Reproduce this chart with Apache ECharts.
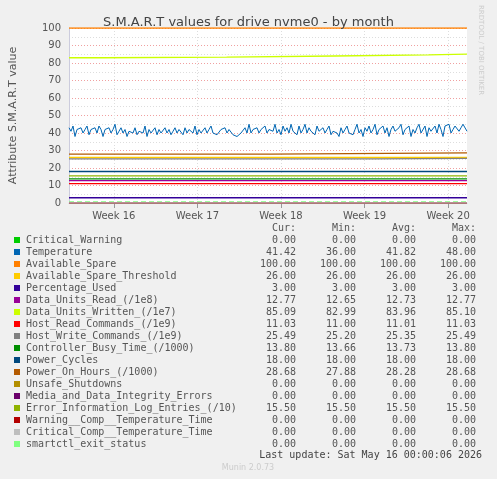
<!DOCTYPE html>
<html>
<head>
<meta charset="utf-8">
<script src="https://cdn.jsdelivr.net/npm/echarts@6/dist/echarts.min.js"></script>
<style>
  html, body { margin: 0; padding: 0; background: #f0f0f0; }
  #main { width: 497px; height: 479px; }
</style>
</head>
<body>
<div id="main"></div>
<script>
  // range in days, week label positions (days)
  var xMax = 33.33;
  var weekPos = [3.75, 10.75, 17.75, 24.75, 31.75];
  var weekNames = ['Week 16', 'Week 17', 'Week 18', 'Week 19', 'Week 20'];

  var names = ['Critical_Warning', 'Temperature', 'Available_Spare', 'Available_Spare_Threshold', 'Percentage_Used',
    'Data_Units_Read_(/1e8)', 'Data_Units_Written_(/1e7)', 'Host_Read_Commands_(/1e9)', 'Host_Write_Commands_(/1e9)',
    'Controller_Busy_Time_(/1000)', 'Power_Cycles', 'Power_On_Hours_(/1000)', 'Unsafe_Shutdowns',
    'Media_and_Data_Integrity_Errors', 'Error_Information_Log_Entries_(/10)', 'Warning__Comp__Temperature_Time',
    'Critical_Comp__Temperature_Time', 'smartctl_exit_status'];
  var colors = ['#00cc00', '#0066b3', '#ff8000', '#ffcc00', '#330099', '#990099', '#ccff00', '#ff0000', '#808080',
    '#008f00', '#00487d', '#b35a00', '#b38f00', '#6b006b', '#8fb300', '#b30000', '#bebebe', '#80ff80'];
  var cur = ['0.00', '41.42', '100.00', '26.00', '3.00', '12.77', '85.09', '11.03', '25.49', '13.80', '18.00', '28.68', '0.00', '0.00', '15.50', '0.00', '0.00', '0.00'];
  var mins = ['0.00', '36.00', '100.00', '26.00', '3.00', '12.65', '82.99', '11.00', '25.20', '13.66', '18.00', '27.88', '0.00', '0.00', '15.50', '0.00', '0.00', '0.00'];
  var avgs = ['0.00', '41.82', '100.00', '26.00', '3.00', '12.73', '83.96', '11.01', '25.35', '13.73', '18.00', '28.28', '0.00', '0.00', '15.50', '0.00', '0.00', '0.00'];
  var maxs = ['0.00', '48.00', '100.00', '26.00', '3.00', '12.77', '85.10', '11.03', '25.49', '13.80', '18.00', '28.68', '0.00', '0.00', '15.50', '0.00', '0.00', '0.00'];

  // step series: [day, value] change points (drawn with step: 'end')
  var writtenSteps = [[0, 82.99], [2.75, 83.3], [13.2, 84.0], [22.25, 84.6], [30.1, 85.1], [33.33, 85.1]];
  var pohSteps = [[0, 27.88], [16.9, 28.68], [33.33, 28.68]];
  var hostWriteSteps = [[0, 25.2], [25.5, 25.49], [33.33, 25.49]];
  var constVals = { 0: 0, 2: 100, 3: 26, 4: 3, 5: 12.73, 7: 11.02, 9: 13.73, 10: 18, 12: 0, 13: 0, 14: 15.5, 15: 0, 16: 0, 17: 0.6 };

  var temperature = [
    43, 41, 44, 38, 42, 41, 43, 40, 42, 44, 39, 42, 41, 43, 40, 44, 42, 38, 42, 41,
    43, 40, 42, 45, 39, 41, 43, 40, 42, 38, 41, 42, 40, 43, 39, 41, 42, 40, 44, 38,
    42, 40, 41, 43, 39, 42, 40, 41, 43, 40, 42, 39, 41, 43, 40, 42, 41, 39, 43, 40,
    42, 41, 40, 44, 39, 42, 40, 41, 43, 40, 42, 44, 40, 41, 39, 40, 42, 41, 43, 40,
    42, 41, 39, 39, 38, 39, 40, 41, 43, 40, 45, 40, 42, 41, 43, 40, 42, 41, 44, 40,
    42, 43, 41, 45, 40, 42, 39, 44, 41, 43, 40, 45, 41, 42, 39, 44, 40, 42, 45, 40,
    43, 41, 42, 39, 44, 41, 42, 43, 40, 42, 44, 39, 41, 42, 40, 38, 43, 40, 42, 44,
    40, 41, 39, 42, 45, 40, 42, 38, 43, 41, 44, 40, 42, 45, 39, 42, 41, 44, 40, 43,
    38, 42, 44, 41, 40, 43, 45, 39, 42, 41, 44, 38, 42, 40, 43, 45, 40, 41, 44, 38,
    43, 41, 42, 44, 40, 45, 42, 38, 44, 43, 45, 40, 42, 44, 45, 41, 43, 45, 44, 41
  ];

  var series = [];
  for (var i = 0; i < names.length; i++) {
    var d, step = false;
    if (i === 1) {
      d = temperature.map(function (v, k) { return [k * xMax / (temperature.length - 1), v]; });
    } else if (i === 6) { d = writtenSteps; step = 'end'; }
    else if (i === 8) { d = hostWriteSteps; step = 'end'; }
    else if (i === 11) { d = pohSteps; step = 'end'; }
    else d = [[0, constVals[i]], [xMax, constVals[i]]];
    series.push({
      name: names[i], type: 'line', data: d, step: step, symbol: 'none', silent: true, animation: false,
      lineStyle: { color: colors[i], width: i === 1 ? 1 : 1.3, type: i === 17 ? [5, 3] : 'solid' },
      z: i === 17 ? 1 : 2
    });
  }

  // legend drawn as text rows
  var mono = 'DejaVu Sans Mono';
  var g = [];
  var heads = ['Cur:', 'Min:', 'Avg:', 'Max:'];
  var colX = [296, 356, 416, 476];
  heads.forEach(function (h, j) {
    g.push({ type: 'text', x: colX[j], y: 228, style: { text: h, font: '10px ' + mono, fill: '#555', align: 'right', verticalAlign: 'middle' } });
  });
  for (var r = 0; r < names.length; r++) {
    var y = 240 + r * 12;
    g.push({ type: 'rect', shape: { x: 14, y: y - 3, width: 6, height: 6 }, style: { fill: colors[r] } });
    g.push({ type: 'text', x: 26, y: y, style: { text: names[r], font: '10px ' + mono, fill: '#555', verticalAlign: 'middle' } });
    [cur[r], mins[r], avgs[r], maxs[r]].forEach(function (v, j) {
      g.push({ type: 'text', x: colX[j], y: y, style: { text: v, font: '10px ' + mono, fill: '#555', align: 'right', verticalAlign: 'middle' } });
    });
  }
  g.push({ type: 'text', x: 482, y: 455, style: { text: 'Last update: Sat May 16 00:00:06 2026', font: '10px ' + mono, fill: '#444', align: 'right', verticalAlign: 'middle' } });
  g.push({ type: 'text', x: 248, y: 468, style: { text: 'Munin 2.0.73', font: '8px DejaVu Sans', fill: '#ccc', align: 'center', verticalAlign: 'middle' } });
  g.push({ type: 'text', x: 484, y: 5, rotation: -Math.PI / 2, style: { text: 'RRDTOOL / TOBI OETIKER', font: '7px DejaVu Sans', fill: '#ccc' } });

  var chart = echarts.init(document.getElementById('main'), null, { renderer: 'canvas' });
  chart.setOption({
    backgroundColor: '#f0f0f0',
    animation: false,
    title: { text: 'S.M.A.R.T values for drive nvme0 - by month', left: 'center', top: 11,
      textStyle: { fontFamily: 'DejaVu Sans', fontSize: 13, fontWeight: 'normal', color: '#444' } },
    grid: { left: 67, right: 30, top: 28, bottom: 276, backgroundColor: '#fff', show: true, borderWidth: 0 },
    xAxis: {
      type: 'value', min: 0, max: xMax, interval: 1,
      axisLine: { lineStyle: { color: '#ccd' } },
      axisTick: { customValues: weekPos, lineStyle: { color: '#999' } },
      axisLabel: { customValues: weekPos, color: '#555', fontFamily: 'DejaVu Sans', fontSize: 10,
        formatter: function (v) { return weekNames[weekPos.indexOf(v)] || ''; } },
      splitLine: { show: true, lineStyle: { color: '#ddd', type: [1, 2] } }
    },
    yAxis: {
      type: 'value', min: 0, max: 100, interval: 10,
      name: 'Attribute S.M.A.R.T value', nameLocation: 'middle', nameGap: 50, nameRotate: 90,
      nameTextStyle: { color: '#555', fontFamily: 'DejaVu Sans', fontSize: 11 },
      axisLine: { show: true, lineStyle: { color: '#ccd' } },
      axisTick: { show: false },
      axisLabel: { color: '#555', fontFamily: 'DejaVu Sans', fontSize: 10 },
      splitLine: { lineStyle: { color: '#f0a0a0', type: [1, 2] } },
      minorTick: { show: false, splitNumber: 2 },
      minorSplitLine: { show: true, lineStyle: { color: '#ddd', type: [1, 2] } }
    },
    series: series,
    graphic: g
  });
</script>
</body>
</html>
